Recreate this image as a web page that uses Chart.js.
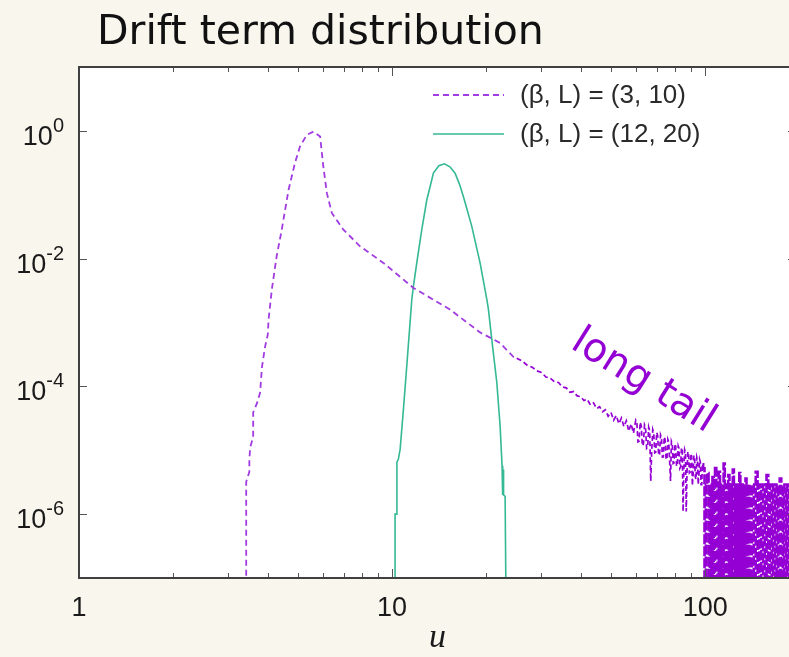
<!DOCTYPE html>
<html><head><meta charset="utf-8">
<script src="https://cdn.jsdelivr.net/npm/chart.js@4.4.1/dist/chart.umd.min.js"></script>
<style>
html,body{margin:0;padding:0;background:#f9f6ee;overflow:hidden;width:789px;height:657px;}
#title{position:absolute;left:97px;top:10px;font-family:'DejaVu Sans',sans-serif;font-size:41px;line-height:40px;color:#111;white-space:nowrap;z-index:2;}
#c{position:absolute;left:0;top:0;}
</style></head><body>
<div id="title">Drift term distribution</div>
<canvas id="c" width="796" height="657"></canvas>
<script>
// ---- data ----
const seriesLabels = ['(β, L) = (3, 10)', '(β, L) = (12, 20)'];
const xMin = 1, xMax = 195, yMin = 1e-7, yMax = 10;
const xTickLabels = [1, 10, 100];
const xMinorTicks = [2,3,4,5,6,7,8,9,20,30,40,50,60,70,80,90];
const yTickExponents = [0, -2, -4, -6];
const annotationText = 'long tail';
const annotationAt = [63.4, 1.2e-4];

// (β, L) = (3, 10): main peak
const purpleCoreU = [3.42,3.42,3.50,3.50,3.52,3.60,3.60,3.71,3.79,3.84,3.88,3.93,4.01,4.03,4.13,4.28,4.44,4.67,4.90,5.08,5.34,5.61,5.89,6.03,6.19,6.42,6.99,7.90,9.38,11.7,15.3,19.1,22.1,24.4,25];
const purpleCoreY = [1e-9,3.2e-6,4.6e-6,6.8e-6,1.1e-5,1.6e-5,3.9e-5,5.6e-5,8.1e-5,2.0e-4,2.8e-4,4.2e-4,6.5e-4,1.1e-3,3.3e-3,1.1e-2,2.8e-2,0.12,0.32,0.57,0.866,0.975,0.815,0.277,0.106,0.0518,0.0284,0.0156,0.00857,0.00348,0.0016,7.0e-4,4.8e-4,2.9e-4,2.75e-4];

// (β, L) = (3, 10): noisy power-law tail
const purpleTailU = [25,26,27,28,29,30,31,32,33,34,35,36,37,38,39,40,41,42,43,44,45,46,47,48,49,50,51,52,53,54,55,56,57,58,59,
  60,60.5,61,61.5,62,62.5,63,63.5,64,64.5,65,65.5,66,66.5,67,67.5,68,68.5,69,69.5,70,70.5,71,71.5,72,72.5,73,73.5,74,74.5,75,75.5,76,76.5,77,77.5,78,78.5,79,79.5,
  80,80.5,81,81.5,82,82.5,83,83.5,84,84.5,85,85.5,86,86.5,87,87.5,88,88.5,89,89.5,90,90.5,91,91.5,92,92.5,93,93.5,94,94.5,95,95.5,96,96.5,97,97.5,98];
const purpleTailY = [2.75e-4,2.5e-4,2.15e-4,2.0e-4,1.75e-4,1.65e-4,1.4e-4,1.35e-4,1.18e-4,1.15e-4,9.8e-5,9.5e-5,8.1e-5,8.3e-5,7.1e-5,6.9e-5,6.0e-5,6.3e-5,5.1e-5,5.5e-5,4.5e-5,4.8e-5,4.0e-5,4.3e-5,3.4e-5,3.9e-5,2.95e-5,3.5e-5,2.6e-5,3.2e-5,2.35e-5,2.9e-5,2.0e-5,2.6e-5,1.85e-5,
  2.95e-5,2.7e-5,1.35e-5,1.38e-5,2.75e-5,2.4e-5,1.17e-5,1.26e-5,2.5e-5,2.25e-5,1.07e-5,1.12e-5,2.3e-5,2.0e-5,3.3e-6,1.0e-5,2.1e-5,1.86e-5,9.1e-6,9.3e-6,1.9e-5,1.7e-5,8.3e-6,8.7e-6,1.74e-5,1.58e-5,7.8e-6,7.9e-6,1.62e-5,1.45e-5,7.1e-6,7.4e-6,1.48e-5,1.35e-5,6.6e-6,3.3e-6,1.38e-5,1.26e-5,6.2e-6,6.3e-6,
  1.26e-5,1.15e-5,5.6e-6,5.9e-6,1.17e-5,1.07e-5,5.2e-6,5.5e-6,1.1e-5,1.0e-5,1.1e-6,5.0e-6,1.02e-5,9.3e-6,1.1e-6,4.7e-6,9.5e-6,8.7e-6,4.4e-6,4.5e-6,8.9e-6,8.1e-6,2.8e-6,4.2e-6,8.3e-6,7.6e-6,3.8e-6,3.5e-6,7.8e-6,7.1e-6,2.9e-6,4.2e-6,7.2e-6,6.6e-6,2.9e-6,2.9e-6,6.0e-6];

// (β, L) = (3, 10): single-count bins and empty bins beyond u ≈ 99
const purpleBlockU = [98,99,100,101,102,103,104,105,106,107,108,109,110,111,112,113,114,115,116,117,118,119,120,121,122,123,124,125,126,127,128,129,130,131,132,133,134,135,136,137,138,139,140,142,144,146,148,150,152,154,156,158,160,162,164,166,168,170,172,174,176,178,180,182,184,186,188,190,192,194,196];
const purpleBlockY = [6.0e-6,5.2e-6,1e-9,2.9e-6,4.4e-6,1e-9,2.9e-6,1e-9,3.8e-6,1e-9,5.6e-6,2.9e-6,1e-9,4.6e-6,1e-9,2.9e-6,1e-9,6.2e-6,1e-9,2.9e-6,1e-9,4.1e-6,1e-9,2.9e-6,1e-9,5.0e-6,1e-9,2.9e-6,1e-9,2.9e-6,1e-9,4.4e-6,1e-9,2.9e-6,1e-9,2.9e-6,1e-9,3.6e-6,1e-9,2.9e-6,1e-9,2.9e-6,1e-9,2.9e-6,1e-9,4.6e-6,1e-9,2.9e-6,1e-9,2.9e-6,1e-9,4.1e-6,1e-9,2.9e-6,1e-9,2.9e-6,1e-9,2.9e-6,1e-9,3.6e-6,1e-9,2.9e-6,1e-9,2.9e-6,1e-9,2.9e-6,1e-9,2.9e-6,1e-9,2.9e-6,1e-9];

// (β, L) = (12, 20)
const greenU = [10.22,10.22,10.33,10.36,10.47,10.61,10.87,11.14,11.56,11.70,11.99,12.44,12.91,13.2,13.55,14.1,14.69,15.3,15.89,16.4,16.89,17.4,17.97,18.5,19.10,20.07,20.31,20.82,21.6,22.13,22.45,22.5,22.55,22.6,22.65,22.7,22.96,23.26];
const greenY = [1e-9,1.0e-6,1.0e-6,6.5e-6,7.2e-6,1.04e-5,4.4e-5,2.09e-4,2.3e-3,3.7e-3,8.6e-3,0.0284,0.0835,0.129,0.218,0.284,0.305,0.274,0.218,0.148,0.094,0.056,0.032,0.017,8.6e-3,2.3e-3,1.6e-3,5.4e-4,1.15e-4,2.4e-5,5.7e-6,2.0e-6,5.5e-6,2.1e-6,5.0e-6,2.0e-6,1.9e-6,1e-9];

// ---- build ----
const toPoints = (us, ys) => us.map((u, i) => ({x: u, y: ys[i]}));
const LABEL_FONT = '"Liberation Sans", Arial, sans-serif';
const PURPLE = '#a03ce0';
const PURPLE_DARK = '#9400d3';
const GREEN = '#35b894';

const framePlugin = {
  id: 'frame',
  beforeDraw(chart) {
    const {ctx, chartArea: a} = chart;
    ctx.save();
    ctx.fillStyle = '#ffffff';
    ctx.fillRect(a.left, a.top, a.right - a.left, a.bottom - a.top);
    ctx.restore();
  },
  afterDatasetsDraw(chart) {
    const {ctx, chartArea: a, scales: {x, y}} = chart;
    ctx.save();
    ctx.strokeStyle = '#555';
    ctx.lineWidth = 1;
    const tick = (x1, y1, x2, y2) => { ctx.beginPath(); ctx.moveTo(x1, y1); ctx.lineTo(x2, y2); ctx.stroke(); };
    xTickLabels.forEach(v => { const px = Math.round(x.getPixelForValue(v)) + 0.5; tick(px, a.bottom, px, a.bottom - 9); tick(px, a.top, px, a.top + 9); });
    xMinorTicks.forEach(v => { const px = Math.round(x.getPixelForValue(v)) + 0.5; tick(px, a.bottom, px, a.bottom - 5); tick(px, a.top, px, a.top + 5); });
    yTickExponents.forEach(e => { const py = Math.round(y.getPixelForValue(Math.pow(10, e))) + 0.5; tick(a.left, py, a.left + 8, py); tick(a.right, py, a.right - 8, py); });
    ctx.strokeStyle = '#404040';
    ctx.lineWidth = 2;
    ctx.strokeRect(a.left, a.top, a.right - a.left, a.bottom - a.top);
    // y labels with raised exponent
    ctx.fillStyle = '#1a1a1a';
    ctx.textBaseline = 'alphabetic';
    ctx.textAlign = 'left';
    yTickExponents.forEach(e => {
      const py = y.getPixelForValue(Math.pow(10, e));
      const expTxt = e === 0 ? '0' : '-' + Math.abs(e);
      ctx.font = '20px ' + LABEL_FONT;
      const we = ctx.measureText(expTxt).width;
      ctx.font = '27px ' + LABEL_FONT;
      const wb = ctx.measureText('10').width;
      const right = 64;
      ctx.fillText('10', right - we - wb, py + 14);
      ctx.font = '20px ' + LABEL_FONT;
      ctx.fillText(expTxt, right - we, py + 1);
    });
    // legend (first two datasets)
    const legendRows = [95, 134];
    chart.data.datasets.slice(0, 2).forEach((ds, i) => {
      const ly = legendRows[i];
      ctx.strokeStyle = ds.borderColor;
      ctx.lineWidth = ds.borderWidth;
      ctx.setLineDash(ds.borderDash || []);
      ctx.beginPath(); ctx.moveTo(433, ly); ctx.lineTo(504, ly); ctx.stroke();
      ctx.setLineDash([]);
      ctx.font = '26px ' + LABEL_FONT;
      ctx.fillStyle = '#2a2a2a';
      ctx.textBaseline = 'alphabetic';
      ctx.fillText(ds.label, 520, ly + 8);
    });
    // annotation
    const ax = x.getPixelForValue(annotationAt[0]);
    const ay = y.getPixelForValue(annotationAt[1]);
    ctx.translate(ax, ay);
    ctx.rotate(32 * Math.PI / 180);
    ctx.font = '40px "DejaVu Sans", sans-serif';
    ctx.fillStyle = PURPLE_DARK;
    ctx.textAlign = 'center';
    ctx.textBaseline = 'middle';
    ctx.fillText(annotationText, 0, 0);
    ctx.restore();
  }
};

new Chart(document.getElementById('c').getContext('2d'), {
  type: 'line',
  data: {
    datasets: [
      { label: seriesLabels[0], data: toPoints(purpleCoreU, purpleCoreY), borderColor: PURPLE, borderWidth: 1.8, borderDash: [6, 4], pointRadius: 0, tension: 0, fill: false },
      { label: seriesLabels[1], data: toPoints(greenU, greenY), borderColor: GREEN, borderWidth: 1.6, pointRadius: 0, tension: 0, fill: false },
      { label: seriesLabels[0] + ' tail', data: toPoints(purpleTailU, purpleTailY), borderColor: PURPLE_DARK, borderWidth: 1.7, borderDash: [5, 3], pointRadius: 0, tension: 0, fill: false },
      { label: seriesLabels[0] + ' sparse bins', data: toPoints(purpleBlockU, purpleBlockY), borderColor: PURPLE_DARK, borderWidth: 2.6, borderDash: [10, 2], stepped: 'middle', pointRadius: 0, tension: 0, fill: false }
    ]
  },
  options: {
    responsive: false,
    animation: false,
    devicePixelRatio: 1,
    layout: { padding: { top: 67, left: 0, right: 0, bottom: 0 } },
    plugins: { legend: { display: false }, tooltip: { enabled: false }, title: { display: false } },
    scales: {
      x: {
        type: 'logarithmic', min: xMin, max: xMax, position: 'bottom',
        grid: { display: false, drawTicks: true, tickLength: 14 }, border: { display: false },
        ticks: {
          autoSkip: false, maxRotation: 0, minRotation: 0, padding: 0, color: '#1a1a1a',
          font: { family: 'Liberation Sans', size: 27 },
          callback: (v) => xTickLabels.includes(v) ? String(v) : ''
        },
        title: { display: true, text: 'u', color: '#1a1a1a', font: { family: 'Liberation Serif', style: 'italic', size: 34 }, padding: { top: 0, bottom: -1 } },
        afterFit: (s) => { s.height = 79; }
      },
      y: {
        type: 'logarithmic', min: yMin, max: yMax,
        grid: { display: false, drawTicks: false }, border: { display: false },
        ticks: { display: false },
        afterFit: (s) => { s.width = 79; }
      }
    }
  },
  plugins: [framePlugin]
});
</script></body></html>
